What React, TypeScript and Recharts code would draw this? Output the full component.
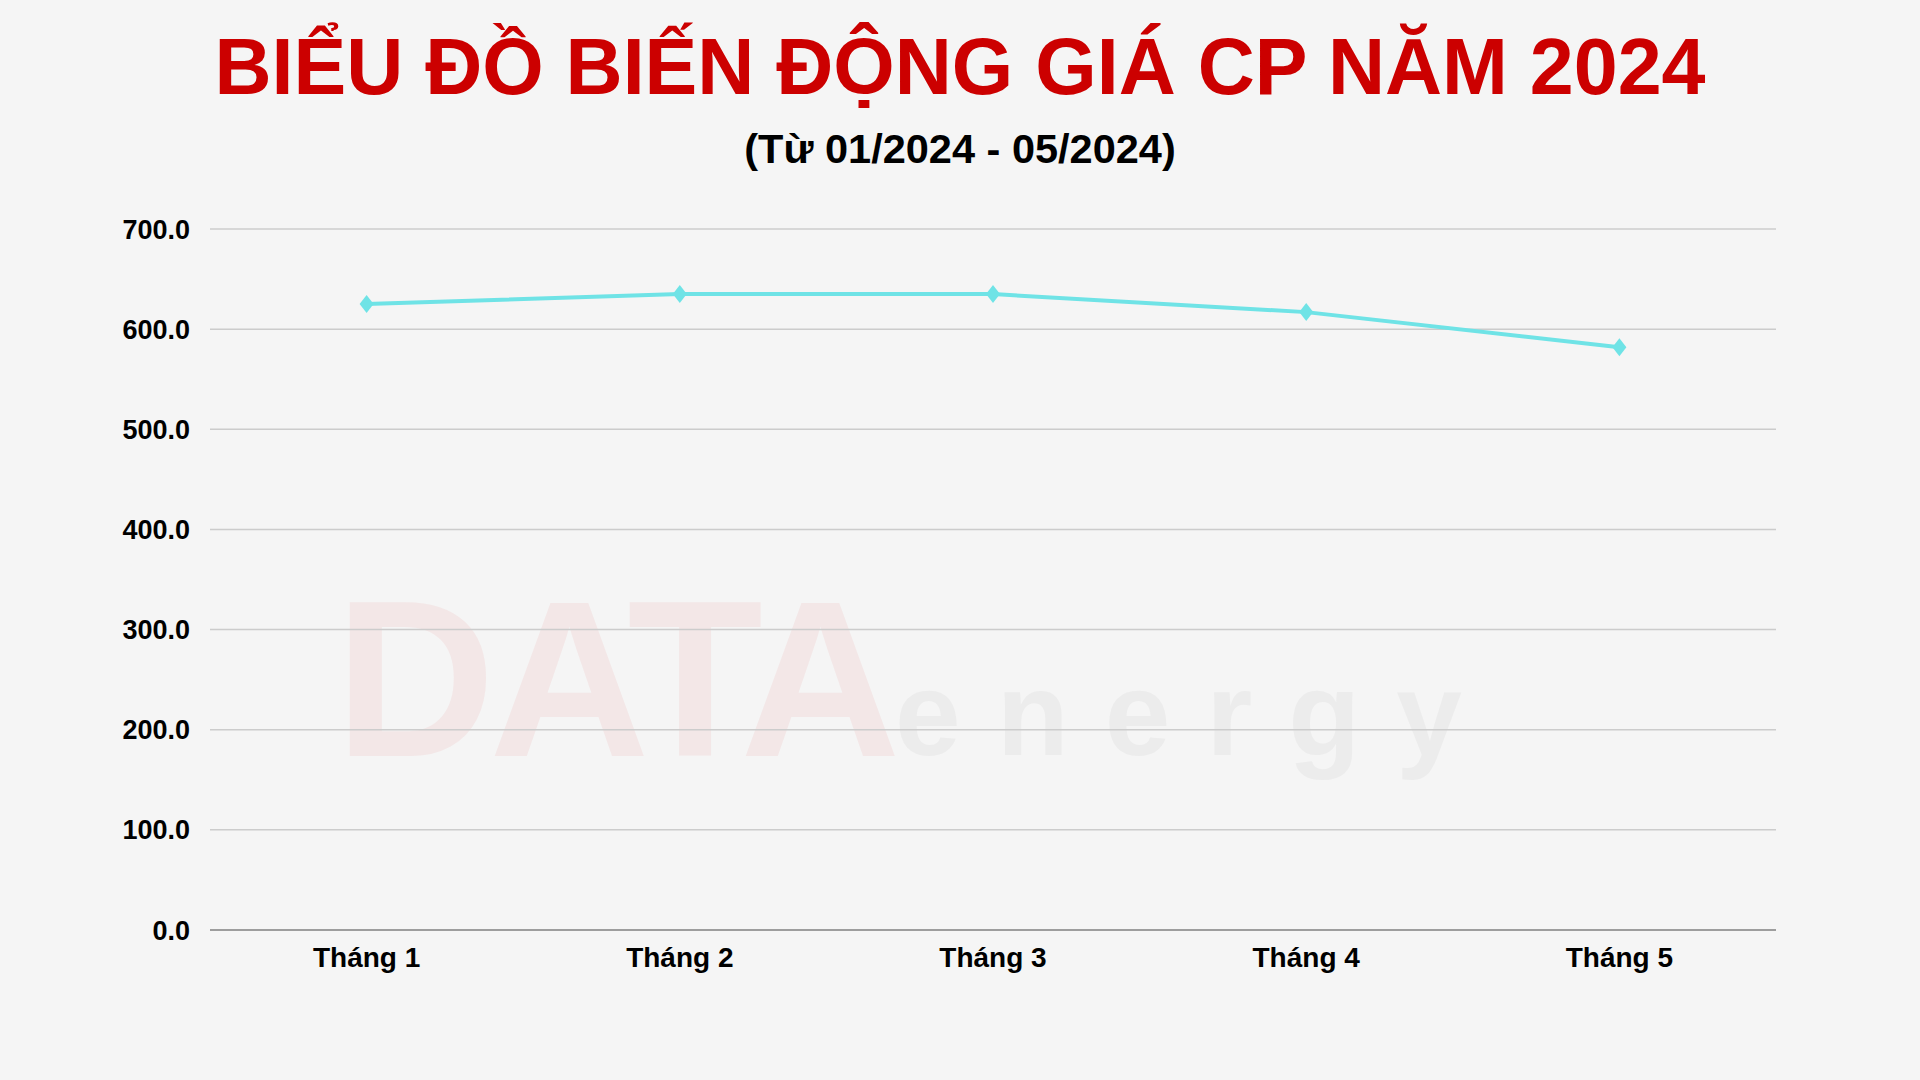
import { LineChart, Line, XAxis, YAxis, CartesianGrid } from 'recharts';

const months = ['Tháng 1', 'Tháng 2', 'Tháng 3', 'Tháng 4', 'Tháng 5'];
const prices = [625, 635, 635, 617, 582];
const yTicks = [0, 100, 200, 300, 400, 500, 600, 700];

const data = months.map((m, i) => ({ month: m, price: prices[i] }));

const FONT = '"Liberation Sans", Arial, sans-serif';
const LINE_COLOR = '#6fe3e6';

// diamond marker
function Diamond(props: any) {
  const { cx, cy } = props;
  if (cx == null || cy == null) return null;
  return (
    <polygon
      points={`${cx},${cy - 9} ${cx + 7},${cy} ${cx},${cy + 9} ${cx - 7},${cy}`}
      fill={LINE_COLOR}
    />
  );
}

export default function App() {
  return (
    <div
      style={{
        position: 'absolute',
        left: 0,
        top: 0,
        width: 1920,
        height: 1080,
        background: '#f5f5f5',
        overflow: 'hidden',
        fontFamily: FONT,
      }}
    >
      {/* faint logo watermark */}
      <div
        style={{
          position: 'absolute',
          left: 335,
          top: 568,
          fontSize: 222,
          fontWeight: 700,
          color: '#f3e7e7',
          letterSpacing: -6,
          lineHeight: 1,
        }}
      >
        DATA
      </div>
      <div
        style={{
          position: 'absolute',
          left: 895,
          top: 655,
          fontSize: 118,
          fontWeight: 700,
          color: '#ececec',
          letterSpacing: 36,
          lineHeight: 1,
        }}
      >
        energy
      </div>

      <div
        style={{
          position: 'absolute',
          left: 0,
          top: 27,
          width: 1920,
          textAlign: 'center',
          fontSize: 79,
          lineHeight: '79px',
          fontWeight: 700,
          color: '#cc0000',
        }}
      >
        BIỂU ĐỒ BIẾN ĐỘNG GIÁ CP NĂM 2024
      </div>
      <div
        style={{
          position: 'absolute',
          left: 0,
          top: 128,
          width: 1920,
          textAlign: 'center',
          fontSize: 41.5,
          lineHeight: '42px',
          fontWeight: 700,
          color: '#000',
        }}
      >
        (Từ 01/2024 - 05/2024)
      </div>

      <div style={{ position: 'absolute', left: 0, top: 0 }}>
        <LineChart
          width={1920}
          height={1080}
          data={data}
          margin={{ top: 229, right: 144, left: 150, bottom: 90 }}
        >
          <CartesianGrid vertical={false} stroke="#cccccc" strokeWidth={1.5} />
          <XAxis
            dataKey="month"
            scale="band"
            height={60}
            axisLine={{ stroke: '#8a8a8a', strokeWidth: 1.5 }}
            tickLine={false}
            tickSize={0}
            tickMargin={17}
            tick={{ fontSize: 28, fontWeight: 700, fill: '#000', fontFamily: FONT }}
            interval={0}
          />
          <YAxis
            width={60}
            domain={[0, 700]}
            ticks={yTicks}
            axisLine={false}
            tickLine={false}
            tickSize={0}
            tickMargin={20}
            tickFormatter={(v: number) => v.toFixed(1)}
            tick={{ fontSize: 27, fontWeight: 700, fill: '#000', fontFamily: FONT }}
          />
          <Line
            type="linear"
            dataKey="price"
            stroke={LINE_COLOR}
            strokeWidth={4}
            dot={<Diamond />}
            activeDot={false}
            isAnimationActive={false}
          />
        </LineChart>
      </div>
    </div>
  );
}
